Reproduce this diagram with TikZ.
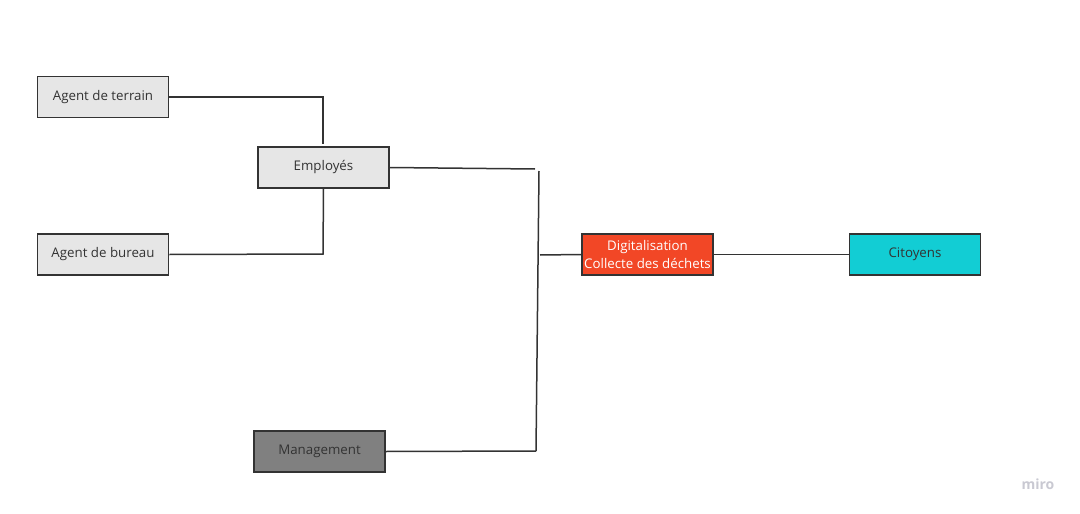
\documentclass[tikz,border=0pt]{standalone}
\usepackage{fontspec}
\setmainfont{Open Sans}
\usepackage{tikz}

\definecolor{boxgray}{HTML}{E6E6E6}
\definecolor{mgmtgray}{HTML}{808080}
\definecolor{digired}{HTML}{F24726}
\definecolor{citcyan}{HTML}{12CDD4}
\definecolor{edgegray}{HTML}{333333}
\definecolor{logogray}{HTML}{C9C9D2}

\tikzset{
	box/.style={draw=edgegray, line width=1.6pt, minimum width=131pt, minimum height=41pt,
		inner sep=0pt, align=center, font=\fontsize{13.3}{18.5}\selectfont, text=black!80},
	link/.style={draw=edgegray, line width=1.5pt},
}

\begin{document}
\begin{tikzpicture}[x=1pt, y=-1pt]
	\useasboundingbox[fill=white] (0,0) rectangle (1080,514);
	\node[box, fill=boxgray] (terrain) at (103,97) {Agent de terrain};
	\node[box, fill=boxgray] (employes) at (323.5,167.5) {Employés};
	\node[box, fill=boxgray] (bureau) at (103,254.5) {Agent de bureau};
	\node[box, fill=mgmtgray] (management) at (319.5,451.5) {Management};
	\node[box, fill=digired, text=white] (digit) at (647.5,254.5) {Digitalisation\\Collecte des déchets};
	\node[box, fill=citcyan] (citoyens) at (915,254.5) {Citoyens};
	\coordinate (eup) at (323,144);
	\coordinate (edown) at (323,254);
	\coordinate (bustop) at (539,171);
	\coordinate (busbot) at (536,451);
	\draw[link] (terrain.east) -| (eup);
	\draw[link] (employes.south) -- (edown) -- (bureau.east);
	\draw[link] (employes.east) -- (535,169);
	\draw[link] (bustop) -- (busbot);
	\draw[link] (management.east) -- (busbot);
	\draw[link] (digit.west) -- (540,255);
	\draw[link] (digit.east) -- (citoyens.west);
	\node[text=logogray, font=\fontsize{14}{16}\selectfont\bfseries] (logo) at (1038,484) {miro};
\end{tikzpicture}
\end{document}
